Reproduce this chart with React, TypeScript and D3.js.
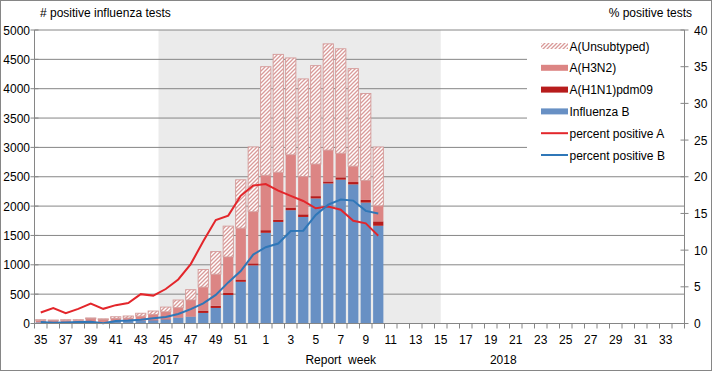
import React from 'react';
import * as d3 from 'd3';

// report weeks, season 2017/2018
const weeks = [
  '35', '36', '37', '38', '39', '40', '41', '42', '43', '44', '45', '46', '47', '48', '49', '50', '51', '52',
  '1', '2', '3', '4', '5', '6', '7', '8', '9', '10', '11', '12', '13', '14', '15', '16', '17', '18',
  '19', '20', '21', '22', '23', '24', '25', '26', '27', '28', '29', '30', '31', '32', '33', '34',
];

// counts per week (weeks 35 .. 10)
const influenzaB = [20, 15, 18, 20, 25, 15, 40, 45, 50, 55, 70, 100, 116, 180, 265, 485, 710, 990, 1545, 1730, 1930, 1815, 2130, 2385, 2450, 2370, 2060, 1665];
const h1n1 = [2, 2, 2, 2, 3, 3, 3, 3, 5, 5, 5, 5, 5, 40, 35, 35, 40, 35, 45, 40, 45, 45, 40, 35, 40, 40, 45, 75];
const h3n2 = [33, 33, 35, 33, 52, 47, 42, 45, 70, 93, 125, 165, 280, 400, 540, 614, 874, 879, 935, 807, 899, 645, 546, 534, 410, 270, 333, 265];
const unsubtyped = [10, 10, 10, 10, 15, 15, 30, 35, 50, 60, 80, 130, 175, 300, 385, 525, 824, 1104, 1850, 2008, 1650, 1662, 1677, 1810, 1780, 1662, 1480, 1002];

// percent positive
const pctA = [1.5, 2.1, 1.4, 2.0, 2.7, 2.0, 2.5, 2.8, 4.0, 3.8, 4.7, 6.0, 8.1, 11.2, 14.1, 14.7, 17.4, 18.8, 19.0, 18.1, 17.4, 16.7, 15.7, 15.95, 15.5, 14.0, 13.65, 11.95];
const pctB = [0.2, 0.1, 0.15, 0.2, 0.25, 0.05, 0.35, 0.4, 0.5, 0.7, 0.9, 1.3, 1.95, 2.75, 3.9, 5.6, 7.15, 9.4, 10.4, 10.9, 12.6, 12.65, 14.8, 16.2, 16.9, 16.75, 15.35, 15.0];

const leftTicks = [0, 500, 1000, 1500, 2000, 2500, 3000, 3500, 4000, 4500, 5000];
const rightTicks = [0, 5, 10, 15, 20, 25, 30, 35, 40];

const W = 712;
const H = 372;
const left = 34.5, right = 684.5, top = 30, bottom = 323.5;
const grey = '#868686';
const font = 'Liberation Sans, Arial, sans-serif';

const keys = ['B', 'H1', 'H3', 'U'];
const colors: Record<string, string> = { B: '#6890c4', H1: '#b71c1c', H3: '#dc8584', U: 'url(#hatch)' };

const App = () => {
  const x = d3.scaleBand<string>().domain(weeks).range([left, right]).paddingInner(0.18).paddingOuter(0.09);
  const step = x.step();
  const yL = d3.scaleLinear().domain([0, 5000]).range([bottom, top]);
  const yR = d3.scaleLinear().domain([0, 40]).range([bottom, top]);
  const cx = (w: string) => (x(w) as number) + x.bandwidth() / 2;
  const edge = (w: string) => (x(w) as number) - (step - x.bandwidth()) / 2;

  const rows = influenzaB.map((b, i) => ({ week: weeks[i], B: b, H1: h1n1[i], H3: h3n2[i], U: unsubtyped[i] }));
  const series = d3.stack<any>().keys(keys)(rows);

  const lineA = d3.line<number>().x((_, i) => cx(weeks[i])).y((d) => yR(d))(pctA) as string;
  const lineB = d3.line<number>().x((_, i) => cx(weeks[i])).y((d) => yR(d))(pctB) as string;

  const shadeX0 = edge('45') - 1;
  const shadeX1 = cx('15');

  const legendItems = [
    { label: 'A(Unsubtyped)', kind: 'rect', color: 'url(#hatch)' },
    { label: 'A(H3N2)', kind: 'rect', color: colors.H3 },
    { label: 'A(H1N1)pdm09', kind: 'rect', color: colors.H1 },
    { label: 'Influenza B', kind: 'rect', color: colors.B },
    { label: 'percent positive A', kind: 'line', color: '#e3262b' },
    { label: 'percent positive B', kind: 'line', color: '#2f77b8' },
  ];

  return (
    <svg width={W} height={H} style={{ position: 'absolute', left: 0, top: 0, fontFamily: font }}>
      <defs>
        <pattern id="hatch" patternUnits="userSpaceOnUse" width="4" height="4">
          <rect width="4" height="4" fill="#ffffff" />
          <path d="M-1,1 l2,-2 M0,4 l4,-4 M3,5 l2,-2" stroke="#d99a99" strokeWidth="1.3" />
        </pattern>
      </defs>
      <rect x={0.5} y={0.5} width={W - 1} height={H - 2} fill="#fff" stroke={grey} />

      {/* season shading */}
      <rect x={shadeX0} y={top} width={shadeX1 - shadeX0} height={bottom - top} fill="#ebebeb" />

      {/* gridlines */}
      {leftTicks.map((t) => (
        <line key={t} x1={left} x2={right} y1={yL(t)} y2={yL(t)} stroke={grey} strokeWidth={1} />
      ))}

      {/* legend background */}
      <rect x={527} y={top + 1} width={right - 527 - 0.5} height={139} fill="#fff" />

      {/* bars */}
      {series.map((s) => (
        <g key={s.key}>
          {s.map((d, i) => (
            <rect
              key={i}
              x={x(weeks[i])}
              y={yL(d[1])}
              width={x.bandwidth()}
              height={Math.max(0, yL(d[0]) - yL(d[1]))}
              fill={colors[s.key]}
              stroke={s.key === 'U' ? '#d49a99' : 'none'}
              strokeWidth={s.key === 'U' ? 0.9 : 0}
            />
          ))}
        </g>
      ))}

      {/* percent lines */}
      <path d={lineA} fill="none" stroke="#e3262b" strokeWidth={2} />
      <path d={lineB} fill="none" stroke="#2f77b8" strokeWidth={2} />

      {/* axes */}
      <line x1={left} x2={left} y1={top} y2={bottom} stroke={grey} />
      <line x1={right} x2={right} y1={top} y2={bottom} stroke={grey} />
      <line x1={left} x2={right} y1={bottom} y2={bottom} stroke={grey} />
      {leftTicks.map((t) => (
        <g key={t}>
          <line x1={left - 4} x2={left + 4} y1={yL(t)} y2={yL(t)} stroke={grey} />
          <text x={30} y={yL(t) + 4.5} textAnchor="end" fontSize={12} fill="#000">{t}</text>
        </g>
      ))}
      {rightTicks.map((t) => (
        <g key={t}>
          <line x1={right - 4} x2={right + 4} y1={yR(t)} y2={yR(t)} stroke={grey} />
          <text x={694} y={yR(t) + 4.5} fontSize={12} fill="#000">{t}</text>
        </g>
      ))}
      {weeks.map((w) => (
        <line key={w} x1={edge(w)} x2={edge(w)} y1={bottom} y2={bottom + 5} stroke={grey} />
      ))}
      <line x1={right} x2={right} y1={bottom} y2={bottom + 5} stroke={grey} />
      {weeks.filter((_, i) => i % 2 === 0).map((w) => (
        <text key={w} x={cx(w)} y={343.5} textAnchor="middle" fontSize={12} fill="#000">{w}</text>
      ))}
      <text x={cx('45')} y={364} textAnchor="middle" fontSize={12} fill="#000">2017</text>
      <text x={cx('7')} y={364} textAnchor="middle" fontSize={12} fill="#000" style={{ whiteSpace: 'pre' }}>{'Report  week'}</text>
      <text x={cx('20')} y={364} textAnchor="middle" fontSize={12} fill="#000">2018</text>

      <text x={40} y={17} fontSize={12} fill="#000">{'# positive influenza tests'}</text>
      <text x={692} y={17} textAnchor="end" fontSize={12} fill="#000">% positive tests</text>

      {/* legend */}
      {legendItems.map((it, i) => {
        const yy = 46 + i * 21.8;
        return (
          <g key={it.label}>
            {it.kind === 'rect' ? (
              <rect x={541} y={yy - 3} width={27} height={6} fill={it.color} />
            ) : (
              <line x1={541} x2={568} y1={yy} y2={yy} stroke={it.color} strokeWidth={2} />
            )}
            <text x={569.5} y={yy + 4.5} fontSize={12} fill="#000">{it.label}</text>
          </g>
        );
      })}
    </svg>
  );
};

export default App;
